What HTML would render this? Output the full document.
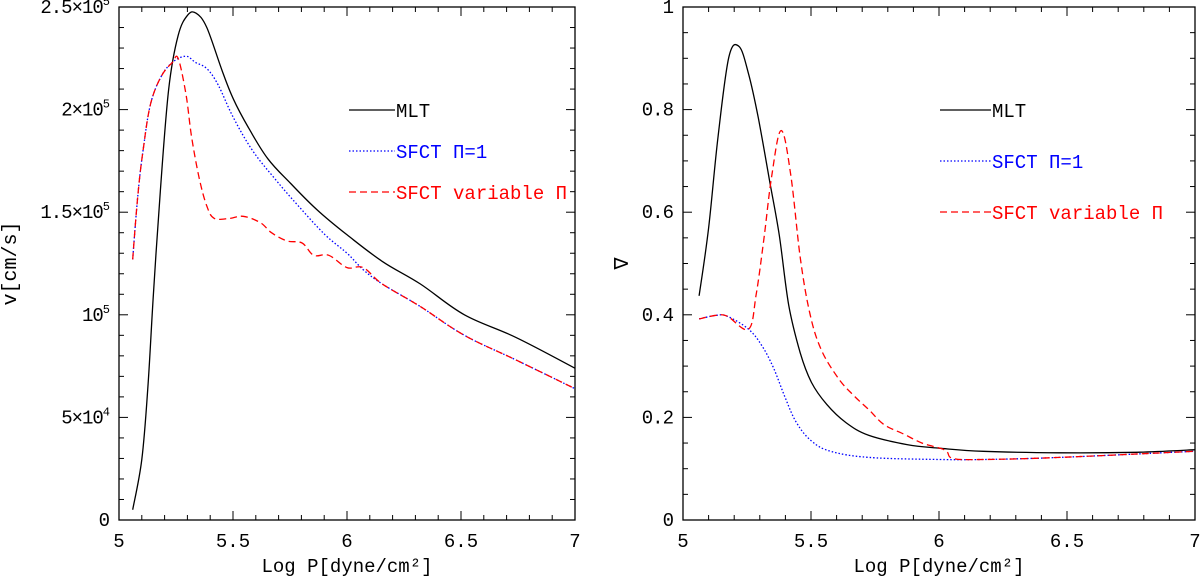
<!DOCTYPE html>
<html><head><meta charset="utf-8"><style>
html,body{margin:0;padding:0;background:#fff;}
svg{display:block;font-family:"Liberation Mono","DejaVu Sans Mono",monospace;}
</style></head><body>
<svg id="chart" width="1200" height="576" viewBox="0 0 1200 576" xmlns="http://www.w3.org/2000/svg"></svg>
<script>
// ---- Left panel data (velocity) ----
const vMltX = [5.06,5.10,5.126,5.151,5.181,5.218,5.259,5.301,5.338,5.385,5.452,5.502,5.569,5.653,5.753,5.870,6.0,6.155,6.322,6.515,6.741,7.0];
const vMltY = [5.0e3,29.5e3,63.5e3,110e3,160e3,210e3,236e3,246e3,247e3,240e3,219e3,205e3,191e3,176e3,164e3,151e3,139e3,126e3,115e3,100e3,89e3,74e3];
const vSfctX = [5.06,5.084,5.109,5.139,5.184,5.234,5.293,5.335,5.385,5.435,5.502,5.586,5.686,5.787,5.904,6.0,6.071,6.155,6.322,6.515,6.741,7.0];
const vSfctY = [127e3,160e3,183e3,203e3,216e3,223e3,226e3,223e3,220e3,212e3,196e3,180e3,166e3,153e3,139e3,130e3,122e3,115e3,104e3,90e3,78e3,64e3];
const vVarX = [5.06,5.084,5.109,5.139,5.184,5.234,5.259,5.293,5.318,5.351,5.385,5.418,5.485,5.544,5.619,5.669,5.736,5.803,5.854,5.920,6.0,6.071,6.155,6.322,6.515,6.741,7.0];
const vVarY = [127e3,160e3,183e3,203e3,216e3,223e3,225e3,208e3,187e3,167e3,153e3,147e3,147e3,148e3,145e3,140e3,136e3,135e3,129e3,129e3,123e3,123e3,115e3,104e3,90e3,78e3,64e3];
// ---- Right panel data (gradient) ----
const gMltX = [5.063,5.1,5.137,5.179,5.219,5.256,5.294,5.338,5.376,5.413,5.458,5.502,5.562,5.636,5.726,5.875,6.0,6.173,6.471,6.769,7.0];
const gMltY = [0.437,0.569,0.748,0.902,0.923,0.870,0.784,0.662,0.555,0.419,0.326,0.268,0.225,0.190,0.165,0.147,0.140,0.134,0.131,0.132,0.137];
const gSfctX = [5.063,5.130,5.174,5.256,5.308,5.353,5.398,5.443,5.502,5.577,5.726,6.0,6.173,6.471,7.0];
const gSfctY = [0.392,0.399,0.397,0.372,0.340,0.297,0.240,0.190,0.154,0.134,0.122,0.118,0.118,0.122,0.134];
const gVarX = [5.063,5.130,5.174,5.256,5.286,5.316,5.346,5.383,5.420,5.458,5.495,5.539,5.607,5.666,5.726,5.785,5.860,5.934,6.024,6.054,6.173,6.471,7.0];
const gVarY = [0.392,0.399,0.397,0.372,0.440,0.548,0.669,0.759,0.676,0.512,0.404,0.333,0.276,0.243,0.215,0.186,0.168,0.150,0.136,0.120,0.118,0.122,0.134];
const xTickLabels = ["5","5.5","6","6.5","7"];
const xTickValues = [5,5.5,6,6.5,7];
const vTickValues = [0,50000,100000,150000,200000,250000];
const vTickLabels = ["0","5×10<tspan dy='-8' font-size='12'>4</tspan>","10<tspan dy='-8' font-size='12'>5</tspan>","1.5×10<tspan dy='-8' font-size='12'>5</tspan>","2×10<tspan dy='-8' font-size='12'>5</tspan>","2.5×10<tspan dy='-8' font-size='12'>5</tspan>"];
const gTickValues = [0,0.2,0.4,0.6,0.8,1];
const gTickLabels = ["0","0.2","0.4","0.6","0.8","1"];

const svg = document.getElementById('chart');
const NS = "http://www.w3.org/2000/svg";
function mk(tag, attrs, parent){ const e=document.createElementNS(NS,tag); for(const k in attrs) e.setAttribute(k,attrs[k]); (parent||svg).appendChild(e); return e; }

function smoothPath(pts){
  let d='M'+pts[0][0].toFixed(1)+','+pts[0][1].toFixed(1);
  const t=0.35;
  for(let i=0;i<pts.length-1;i++){
    const p0=pts[Math.max(0,i-1)],p1=pts[i],p2=pts[i+1],p3=pts[Math.min(pts.length-1,i+2)];
    const c1x=p1[0]+(p2[0]-p0[0])*t/2, c1y=p1[1]+(p2[1]-p0[1])*t/2;
    const c2x=p2[0]-(p3[0]-p1[0])*t/2, c2y=p2[1]-(p3[1]-p1[1])*t/2;
    d+=` C${c1x.toFixed(1)},${c1y.toFixed(1)} ${c2x.toFixed(1)},${c2y.toFixed(1)} ${p2[0].toFixed(1)},${p2[1].toFixed(1)}`;
  }
  return d;
}

function panel(cfg){
  const g = mk('g',{});
  
  
  const {L,R,T,B,ymax} = cfg;
  const sx = v => L + (v-5)/2*(R-L);
  const sy = v => B - v/ymax*(B-T);
  const frame = mk('rect',{x:L,y:T,width:R-L,height:B-T,fill:'none',stroke:'#000','stroke-width':1.3},g);
  
  
  for(let i=0;i<=20;i++){
    const v=5+i*0.1, x=sx(v), len=(i%5===0)?9:5;
    mk('line',{x1:x,y1:B,x2:x,y2:B-len,stroke:'#000','stroke-width':1},g);
    mk('line',{x1:x,y1:T,x2:x,y2:T+len,stroke:'#000','stroke-width':1},g);
  }
  xTickValues.forEach((v,i)=>{
    const t=mk('text',{x:sx(v),y:B+27,'font-size':19,'text-anchor':'middle'},g);
    t.textContent=xTickLabels[i];
    
    
  });
  const n=Math.round(ymax/cfg.minor);
  for(let i=0;i<=n;i++){
    const v=i*cfg.minor, y=sy(v), len=(i%cfg.majEvery===0)?9:5;
    mk('line',{x1:L,y1:y,x2:L+len,y2:y,stroke:'#000','stroke-width':1},g);
    mk('line',{x1:R,y1:y,x2:R-len,y2:y,stroke:'#000','stroke-width':1},g);
  }
  cfg.ytv.forEach((v,i)=>{
    const t=mk('text',{x:L-10,y:sy(v)+6,'font-size':19,'text-anchor':'end','letter-spacing':'-1'},g);
    t.innerHTML=cfg.ytl[i];
    
    
  });
  const xt=mk('text',{x:(L+R)/2,y:572,'font-size':19,'text-anchor':'middle'},g);
  xt.textContent='Log P[dyne/cm²]';
  
  
  const yt=mk('text',{x:cfg.ytx,y:(T+B)/2,'font-size':20,'text-anchor':'middle',transform:`rotate(-90 ${cfg.ytx} ${(T+B)/2})`},g);
  yt.textContent=cfg.ytitle;
  
  
  cfg.series.forEach(s=>{
    const pts=s.x.map((v,i)=>[sx(v),sy(s.y[i])]);
    const p=mk('path',{d:smoothPath(pts),fill:'none',stroke:s.color,'stroke-width':1.3,'stroke-dasharray':s.dash},g);
    
    
  });
  cfg.legend.forEach((lg,i)=>{
    const s=cfg.series[i];
    const y=lg.y;
    const ln=mk('line',{x1:lg.x1,y1:y,x2:lg.x2,y2:y,stroke:s.color,'stroke-width':1.3,'stroke-dasharray':s.dash},g);
    
    
    const t=mk('text',{x:lg.x2+1,y:y+7,'font-size':19,fill:s.color},g);
    t.textContent=s.label;
    
    
  });
}

panel({name:'velocity-panel',L:119,R:575,T:7,B:520,ymax:250000,minor:10000,majEvery:5,ytv:vTickValues,ytl:vTickLabels,ytitle:'v[cm/s]',ytx:16,
  series:[
    {name:'mlt-line',x:vMltX,y:vMltY,color:'#000',dash:'none',label:'MLT'},
    {name:'sfct-pi1-line',x:vSfctX,y:vSfctY,color:'#0000ff',dash:'1.5,2',label:'SFCT Π=1'},
    {name:'sfct-variable-line',x:vVarX,y:vVarY,color:'#ff0000',dash:'7,4',label:'SFCT variable Π'}
  ],
  legend:[{x1:349,x2:395,y:110},{x1:349,x2:395,y:151},{x1:349,x2:395,y:192}]
});
panel({name:'gradient-panel',L:683,R:1195,T:7,B:520,ymax:1,minor:0.05,majEvery:4,ytv:gTickValues,ytl:gTickLabels,ytitle:'∇',ytx:628,
  series:[
    {name:'mlt-line',x:gMltX,y:gMltY,color:'#000',dash:'none',label:'MLT'},
    {name:'sfct-pi1-line',x:gSfctX,y:gSfctY,color:'#0000ff',dash:'1.5,2',label:'SFCT Π=1'},
    {name:'sfct-variable-line',x:gVarX,y:gVarY,color:'#ff0000',dash:'7,4',label:'SFCT variable Π'}
  ],
  legend:[{x1:940,x2:991,y:110},{x1:940,x2:991,y:161},{x1:940,x2:991,y:212}]
});
</script>
</body></html>
